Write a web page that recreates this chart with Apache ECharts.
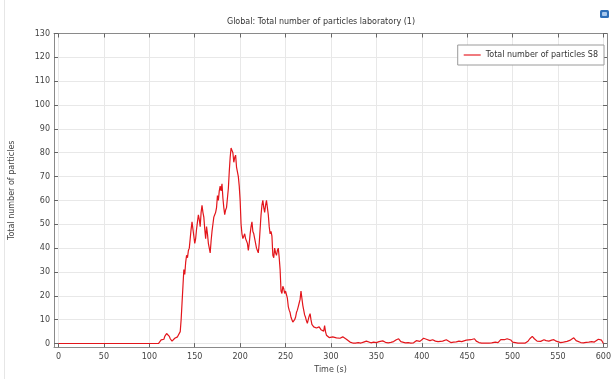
<!DOCTYPE html>
<html><head><meta charset="utf-8">
<script src="https://cdn.jsdelivr.net/npm/echarts@6/dist/echarts.min.js"></script>
<style>html,body{margin:0;padding:0;background:#fff}#c{width:614px;height:379px}</style>
</head><body><div id="c"></div>
<script>
const titleText = 'Global: Total number of particles laboratory (1)';
const seriesName = 'Total number of particles S8';
const xTicks = [0,50,100,150,200,250,300,350,400,450,500,550,600];
const yTicks = [0,10,20,30,40,50,60,70,80,90,100,110,120,130];
const times = [0,110,112,113,114,115,116,117,118,119,120,121,122,123,124,125,126,127,128,129,130,131,132,133,134,135,136,137,138,139,140,141,142,143,144,145,146,147,148,149,150,151,152,153,154,155,156,157,158,159,160,161,162,163,164,165,166,167,168,169,170,171,172,173,174,175,176,177,178,179,180,181,182,183,184,185,186,187,188,189,190,191,192,193,194,195,196,197,198,199,200,201,202,203,204,205,206,207,208,209,210,211,212,213,214,215,216,217,218,219,220,221,222,223,224,225,226,227,228,229,230,231,232,233,234,235,236,237,238,239,240,241,242,243,244,245,246,247,248,249,250,251,252,253,254,255,256,257,258,259,260,261,262,263,264,265,266,267,268,269,270,271,272,273,274,275,276,277,278,279,280,281,282,283,284,285,286,287,288,289,290,291,292,293,294,295,296,297,298,299,300,302,304,306,308,310,313,315,317,319,321,324,327,330,333,336,339,341,344,347,350,353,355,357,360,363,366,369,372,374.5,377,379,382,385,388,391,394,395.6,398,400,402,403,405,406.6,409,412,415,418,420,423,427,429,432,435,438,441,444,446,449,451,454,456,458,460,463,466,470,474,477,481,484,487,489,491,492.5,494,496,498,500,502,506,510,514,517,519,521.7,524,527,529,531,534.6,537,540,543,545.5,548,550,553,556,560,563,565,567.4,570,572,575,578,581,584,587,590,592,594.5,596.7,598,600];
const counts = [0,0,0.5,1.5,1,2,1.8,3,3.6,4.2,4.8,4.2,3,2,1.4,1,1.2,1.6,2.2,2.6,2.2,2.8,3,3.6,5,10,17,24,31,29,34,37,36,39,40,44,48,51,48,45,42,44,48,51,54,52,49,55,58,55,53,48,44,49,46,42,40,38,43,47,50,53,54,55,57,62,60,64,66,64,67,61,57,54,56,57,61,65,72,78,82,81,80,76,78,79,74,72,70,66,60,50,46,44,45,46,44,43,42,39,42,46,49,51,47,46,44,42,40,39,38,42,48,54,58,60,57,55,58,60,57,54,49,46,47,45,37,36,40,38,37,39,40,36,31,22,21,24,23,21,22,21.6,19,15.5,14,13,11,10,9,9.5,10,11,13,14,15.5,17,18.5,22,19,16,14,12,11,9.5,8.5,10,11.5,12.5,10,8,7.5,7,6.8,7.2,6.5,6,6,7,6.5,5.8,6,5,5.2,7.5,5,3.5,3,3,2.5,2.2,2.4,2.8,3,2.4,2,2.2,2.8,2.2,1.8,1.2,0.6,0.2,0.2,0.4,0.2,0.6,1,0.5,0.3,0.6,0.4,0.8,0.5,1.1,0.5,0.3,0.5,0.8,1.6,2,0.8,0.2,0.3,0.4,0.2,0.3,1.2,2,0.9,1,2.2,3,1.8,1,1.2,1.6,1,0.8,0.6,1,1.6,1,0.4,0.6,0.7,1,0.8,1.2,1.4,1,1.6,1.2,2,1,0.4,0.2,0.2,0.2,0.3,0.6,0.4,1.6,1,1.6,2.4,2,2.8,1.5,0.6,0.2,0.2,0.2,0.2,1,2,3,2,1,1.2,0.9,1.6,1.2,1,1.4,1.6,1,0.5,0.4,0.6,0.9,1.3,2,2.4,1.2,0.6,0.4,0.3,0.5,0.6,0.8,0.6,1,1.8,2.4,1.4,0];

const FONT = 'DejaVu Sans';
const txt = '#444';
const frame = '#8a8a8a';
const grid = '#e8e8e8';
const red = '#e3151b';

const chart = echarts.init(document.getElementById('c'), null, {renderer:'canvas'});
const data = times.map((t,i)=>[t,counts[i]]);
function xAx(pos, main){
  return {type:'value', position:pos, min:-5, max:604,
    axisLine:{show:true, onZero:false, lineStyle:{color:frame,width:1}},
    axisTick:{show:true, inside:true, length:4, customValues:xTicks, lineStyle:{color:'#666'}},
    axisLabel:{show:main, customValues:xTicks, color:txt, fontFamily:FONT, fontSize:8, margin:6},
    splitLine:{show:main, lineStyle:{color:grid,width:1}},
    name: main ? 'Time (s)' : '', nameLocation:'middle', nameGap:16,
    nameTextStyle:{color:txt, fontFamily:FONT, fontSize:8}};
}
function yAx(pos, main){
  return {type:'value', position:pos, min:-1.5, max:130,
    axisLine:{show:true, onZero:false, lineStyle:{color:frame,width:1}},
    axisTick:{show:true, inside:true, length:4, customValues:yTicks, lineStyle:{color:'#666'}},
    axisLabel:{show:main, customValues:yTicks, color:txt, fontFamily:FONT, fontSize:8, margin:4},
    splitLine:{show:main, lineStyle:{color:grid,width:1}},
    name: main ? 'Total number of particles' : '', nameLocation:'middle', nameGap:38,
    nameTextStyle:{color:txt, fontFamily:FONT, fontSize:8}};
}
chart.setOption({
  animation:false,
  backgroundColor:'#fff',
  title:{text:titleText, left:316, textAlign:'center', top:13,
    textStyle:{color:'#333', fontFamily:FONT, fontSize:8, fontWeight:'normal'}},
  grid:{left:52.8, right:5.5, top:33.5, bottom:24, containLabel:false},
  legend:{show:true, right:10, top:45, orient:'vertical',
    backgroundColor:'#fff', borderColor:'#9a9a9a', borderWidth:1, borderRadius:0,
    padding:[6,6,6,6], itemWidth:17, itemHeight:2, itemGap:4,
    icon:'rect',
    textStyle:{color:'#333', fontFamily:FONT, fontSize:8},
    data:[{name:seriesName, itemStyle:{color:'#f07a7e'}}]},
  xAxis:[xAx('bottom',true), xAx('top',false)],
  yAxis:[yAx('left',true), yAx('right',false)],
  series:[{name:seriesName, type:'line', data:data, xAxisIndex:0, yAxisIndex:0,
    showSymbol:false, symbol:'none', lineStyle:{color:red, width:1.2}, itemStyle:{color:red}}],
  graphic:[
    {type:'line', shape:{x1:4.5,y1:0,x2:4.5,y2:379}, style:{stroke:'#e6e6e6',lineWidth:1}},
    {type:'rect', shape:{x:600,y:10,width:9,height:8,r:1.5}, style:{fill:'#2f6fb8'}},
    {type:'rect', shape:{x:602,y:12,width:5,height:4,r:1}, style:{fill:'#a9c8ec'}}
  ]
});
</script></body></html>
